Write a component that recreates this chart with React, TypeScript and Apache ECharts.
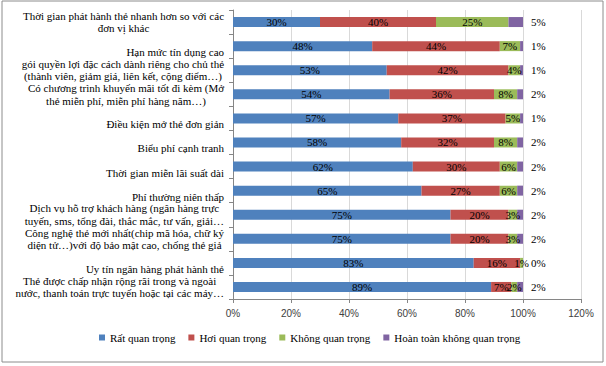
import React, { useEffect, useRef } from "react";
import * as echarts from "echarts";

const categories = [
  "Thời gian phát hành thẻ nhanh hơn so với các\nđơn vị khác",
  "Hạn mức tín dụng cao",
  "gói quyền lợi đặc cách dành riêng cho chủ thẻ\n(thành viên, giảm giá, liên kết, cộng điểm…)",
  "Có chương trình khuyến mãi tốt đi kèm (Mở\nthẻ miễn phí, miễn phí hàng năm…)",
  "Điều kiện mở thẻ đơn giản",
  "Biểu phí cạnh tranh",
  "Thời gian miễn lãi suất dài",
  "Phí thường niên thấp",
  "Dịch vụ hỗ trợ khách hàng (ngân hàng trực\ntuyến, sms, tổng đài, thắc mắc, tư vấn, giải…",
  "Công nghệ thẻ mới nhất(chip mã hóa, chữ ký\ndiện tử…)với độ bảo mật cao, chống thẻ giả",
  "Uy tín ngân hàng phát hành thẻ",
  "Thẻ được chấp nhận rộng rãi trong và ngoài\nnước, thanh toán trực tuyến hoặc tại các máy…",
];

const seriesNames = [
  "Rất quan trọng",
  "Hơi quan trọng",
  "Không quan trọng",
  "Hoàn toàn không quan trọng",
];

const veryImportant = [30, 48, 53, 54, 57, 58, 62, 65, 75, 75, 83, 89];
const somewhatImportant = [40, 44, 42, 36, 37, 32, 30, 27, 20, 20, 16, 7];
const notImportant = [25, 7, 4, 8, 5, 8, 6, 6, 3, 3, 1, 2];
const notAtAll = [5, 1, 1, 2, 1, 2, 2, 2, 2, 2, 0, 2];

const xMin = 0;
const xMax = 120;
const xInterval = 20;

const colors = ["#4F81BD", "#C0504D", "#9BBB59", "#8064A2"];
const serif = "'Liberation Serif', 'Times New Roman', serif";
const sans = "'Liberation Sans', Arial, sans-serif";

export default function App() {
  const ref = useRef<HTMLDivElement>(null);

  useEffect(() => {
    if (!ref.current) return;
    const chart = echarts.init(ref.current, undefined, { renderer: "svg" });
    const values = [veryImportant, somewhatImportant, notImportant, notAtAll];

    const option: any = {
      animation: false,
      backgroundColor: "#ffffff",
      color: colors,
      grid: { left: 233, right: 25, top: 10, bottom: 67, containLabel: false },
      legend: {
        data: seriesNames,
        left: 94,
        top: 327,
        icon: "rect",
        itemWidth: 6,
        itemHeight: 6,
        itemGap: 13,
        textStyle: { fontFamily: serif, fontSize: 11, color: "#000" },
      },
      xAxis: {
        type: "value",
        min: xMin,
        max: xMax,
        interval: xInterval,
        axisLine: { show: true, lineStyle: { color: "#868686", width: 1 } },
        axisTick: { show: true, length: 4, lineStyle: { color: "#868686" } },
        splitLine: { show: true, lineStyle: { color: "#D9D9D9", width: 1 } },
        axisLabel: {
          formatter: "{value}%",
          fontFamily: sans,
          fontSize: 10,
          color: "#404040",
          margin: 9,
        },
      },
      yAxis: {
        type: "category",
        inverse: true,
        data: categories,
        axisLine: { show: true, lineStyle: { color: "#868686", width: 1 } },
        axisTick: { show: true, length: 4, lineStyle: { color: "#868686" } },
        axisLabel: {
          margin: 9,
          align: "right",
          fontFamily: serif,
          fontSize: 11,
          color: "#000",
          formatter: (v: string) => {
            const lines = v.split("\n");
            if (lines.length === 1) return `{s|${lines[0]}}`;
            return lines.map((l) => `{c|${l}}`).join("\n");
          },
          rich: {
            c: {
              align: "center",
              fontFamily: serif,
              fontSize: 11,
              lineHeight: 12.5,
              color: "#000",
            },
            s: {
              align: "center",
              fontFamily: serif,
              fontSize: 11,
              lineHeight: 12.5,
              color: "#000",
              padding: [12, 0, 0, 0],
            },
          },
        },
      },
      series: seriesNames.map((name, i) => ({
        name,
        type: "bar",
        stack: "total",
        barWidth: 10,
        data: values[i],
        itemStyle: { color: colors[i] },
        label: {
          show: true,
          position: i === 3 ? "right" : "inside",
          distance: 8,
          formatter: "{c}%",
          fontFamily: serif,
          fontSize: 11,
          color: "#000",
        },
      })),
      graphic: [
        {
          type: "rect",
          shape: { x: 2, y: 1, width: 601, height: 361 },
          style: { fill: "none", stroke: "#8C8C8C", lineWidth: 1 },
          silent: true,
        },
      ],
    };

    chart.setOption(option);
    return () => chart.dispose();
  }, []);

  return (
    <div
      ref={ref}
      style={{ position: "fixed", left: 0, top: 0, width: 606, height: 366, background: "#fff" }}
    />
  );
}
